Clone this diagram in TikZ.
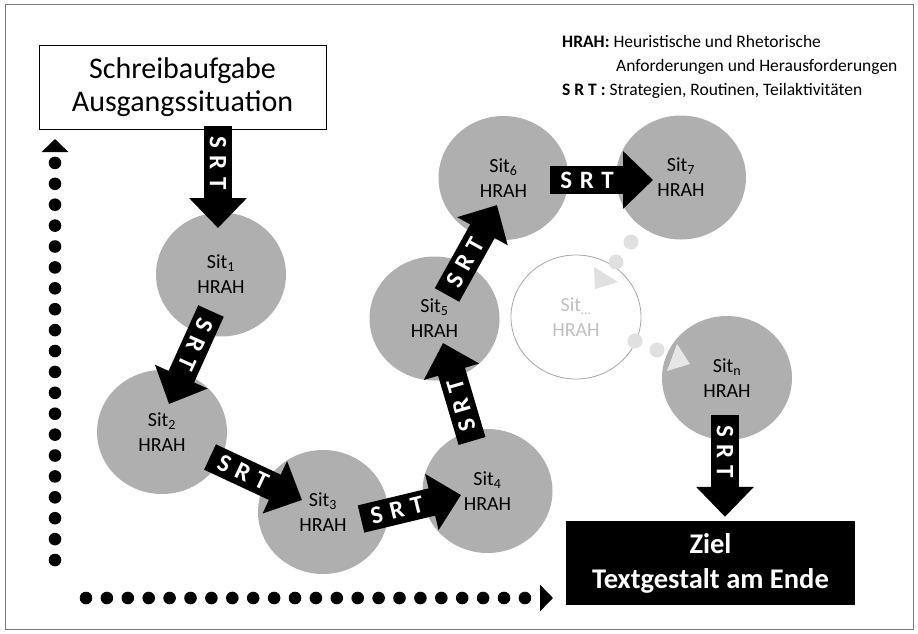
\documentclass[tikz,border=0pt]{standalone}
\usepackage{fontspec}
\setmainfont{Carlito}
\usetikzlibrary{shapes.geometric,arrows.meta,calc}

\definecolor{sitgray}{RGB}{175,175,175}
\definecolor{faintgray}{RGB}{224,224,224}
\definecolor{ghostgray}{RGB}{166,166,166}
\definecolor{ghosttext}{RGB}{191,191,191}
\definecolor{framegray}{RGB}{120,120,120}

\begin{document}
\begin{tikzpicture}[x=1pt,y=-1pt,
  sit/.style={ellipse,fill=sitgray,minimum width=130pt,minimum height=124pt,align=center,font=\fontsize{20}{25}\selectfont},
  srt/.style={line width=28pt,-{Triangle[length=30pt,width=56pt]}},
  srtlbl/.style={sloped,allow upside down,text=white,font=\fontsize{25}{25}\selectfont\bfseries},
  dots/.style={line width=12.6pt,line cap=round,dash pattern=on 0pt off 20.9pt,-{Triangle[length=13pt,width=26pt]}}]
\tikzstyle{every node}+=[inner sep=0pt]
\useasboundingbox (0,0) rectangle (918,634);
\draw [framegray,line width=1pt] (5,5) rectangle (913,629);
\node [draw,line width=0.8pt,minimum width=287pt,minimum height=84pt,align=center,font=\fontsize{30}{33}\selectfont] (task) at (182.5,87) {Schreibaufgabe\\Ausgangssituation};
\node [fill=black,text=white,minimum width=289pt,minimum height=84pt,align=center,font=\fontsize{28.5}{35}\selectfont\bfseries] (goal) at (710.5,563) {Ziel\\Textgestalt am Ende};
\node [anchor=north west,align=left,font=\fontsize{17.5}{24}\selectfont] (legend) at (562,35) {\textbf{HRAH:} Heuristische und Rhetorische\\\hspace*{54pt}Anforderungen und Herausforderungen\\\textbf{S R T :} Strategien, Routinen, Teilaktivitäten};
\node [sit] (s1) at (221,274.5) {Sit\textsubscript{1}\\HRAH};
\node [sit] (s2) at (162,432) {Sit\textsubscript{2}\\HRAH};
\node [sit] (s3) at (323,512) {Sit\textsubscript{3}\\HRAH};
\node [sit] (s4) at (487.5,491) {Sit\textsubscript{4}\\HRAH};
\node [sit] (s5) at (434.5,318.5) {Sit\textsubscript{5}\\HRAH};
\node [sit] (s6) at (503.5,178) {Sit\textsubscript{6}\\HRAH};
\node [sit] (s7) at (681,177.5) {Sit\textsubscript{7}\\HRAH};
\node [sit] (sn) at (727,378) {Sit\textsubscript{n}\\HRAH};
\node [sit,fill=none,draw=ghostgray,line width=0.8pt,text=ghosttext] (sx) at (576,317) {Sit\textsubscript{\dots}\\HRAH};
\fill [faintgray] (631,242) circle (7.5pt) (616,262) circle (7.5pt) (635,341) circle (7.5pt) (657,350) circle (7.5pt);
\fill [faintgray] (594,267) -- (618,282) -- (595,289) -- cycle;
\fill [faintgray!80!white] (677,344) -- (690,364) -- (667,371) -- cycle;
\draw [srt] ($(task.south -| s1)+(-3,-3)$) -- ($(s1)+(-3,-46.5)$) node [srtlbl,pos=0.36] {S\hspace{0.3em}R\hspace{0.3em}T};
\draw [srt] ($(s1)+(-10,36.5)$) -- ($(s2)+(7,-28)$) node [srtlbl,pos=0.36] {S\hspace{0.3em}R\hspace{0.3em}T};
\draw [srt] ($(s2)+(48,25)$) -- ($(s3)+(-21,-12)$) node [srtlbl,pos=0.36] {S\hspace{0.3em}R\hspace{0.3em}T};
\draw [srt] ($(s3)+(38,7)$) -- ($(s4)+(-26.5,4)$) node [srtlbl,pos=0.36] {S\hspace{0.3em}R\hspace{0.3em}T};
\draw [srt] ($(s4)+(-15.5,-50)$) -- ($(s5)+(8.5,24.5)$) node [srtlbl,pos=0.36] {S\hspace{0.3em}R\hspace{0.3em}T};
\draw [srt] ($(s5)+(12.5,-23.5)$) -- ($(s6)+(-6.5,27)$) node [srtlbl,pos=0.36] {S\hspace{0.3em}R\hspace{0.3em}T};
\draw [srt] ($(s6)+(46.5,2)$) -- ($(s7)+(-28,2.5)$) node [srtlbl,pos=0.36] {S\hspace{0.3em}R\hspace{0.3em}T};
\draw [srt] ($(sn)+(-2,37)$) -- ($(goal.north -| sn)+(-2,-4)$) node [srtlbl,pos=0.36] {S\hspace{0.3em}R\hspace{0.3em}T};
\coordinate (vbot) at (55,560);
\coordinate (vtop) at (55,139);
\coordinate (hbeg) at (86,598);
\coordinate (hend) at (553,598);
\draw [dots] (vbot) -- (vtop);
\draw [dots] (hbeg) -- (hend);
\end{tikzpicture}
\end{document}
